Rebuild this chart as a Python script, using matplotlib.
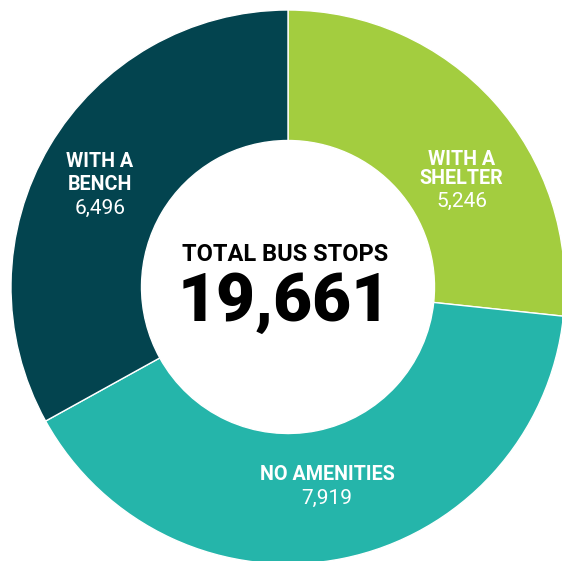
import matplotlib
matplotlib.use("Agg")
import matplotlib.pyplot as plt

categories = ["WITH A\nSHELTER", "NO AMENITIES", "WITH A\nBENCH"]
values = [5246, 7919, 6496]
colors = ["#A3CD3F", "#25B5AA", "#03444F"]
total_label = "TOTAL BUS STOPS"
total_value = "19,661"

W, H = 562, 561
fig = plt.figure(figsize=(W / 100, H / 100), dpi=100)
ax = fig.add_axes([0, 0, 1, 1])

cx, cy = 288, H - 287
R_out, R_in = 277, 146.5
ax.pie(values, colors=colors, startangle=90, counterclock=False,
       center=(cx, cy), radius=R_out,
       wedgeprops=dict(width=R_out - R_in, edgecolor="white", linewidth=1.0))
ax.set_xlim(0, W)
ax.set_ylim(0, H)
ax.set_aspect("equal")
ax.axis("off")

FONT = ["Roboto", "DejaVu Sans"]

def px(y):
    return H - y

# center text
ax.text(285, px(260.7), total_label, ha="center", va="baseline",
        fontsize=17, fontweight="bold", family=FONT, color="black")
ax.text(284, px(320.7), total_value, ha="center", va="baseline",
        fontsize=48.5, fontweight="black", family=FONT, color="black")

def label(x, ys, lines, num, num_y):
    for y, t in zip(ys, lines):
        ax.text(x, px(y), t, ha="center", va="baseline", fontsize=14.2,
                fontweight="bold", family=FONT, color="white")
    ax.text(x, px(num_y), num, ha="center", va="baseline", fontsize=15,
            fontweight="normal", family=FONT, color="white")

fmt = lambda v: f"{v:,}"
label(461.5, [165, 184], categories[0].split("\n"), fmt(values[0]), 206.7)
label(327, [480], categories[1].split("\n"), fmt(values[1]), 504)
label(100, [167, 190], categories[2].split("\n"), fmt(values[2]), 214)

fig.savefig("out.png", dpi=100, facecolor="white")
